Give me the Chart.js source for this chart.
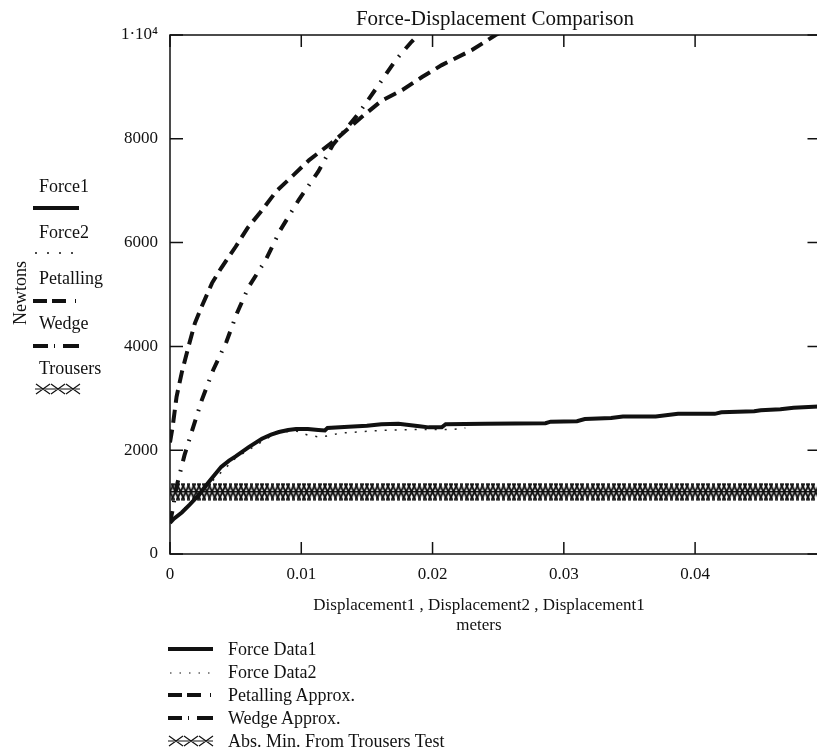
<!DOCTYPE html>
<html>
<head>
<meta charset="utf-8">
<title>Force-Displacement Comparison</title>
<script src="https://cdn.jsdelivr.net/npm/chart.js@4.4.1/dist/chart.umd.min.js"></script>
<style>
    body { margin: 0; background: #fff; }
    #wrap {
        position: relative;
        width: 817px;
        height: 754px;
        overflow: hidden;
        font-family: "Liberation Serif", "Times New Roman", serif;
        color: #111;
    }
    #wrap canvas { position: absolute; left: 0; top: 0; }
    .lbl { position: absolute; white-space: nowrap; line-height: 1; }
    .sample { position: absolute; overflow: visible; }
</style>
</head>
<body>
<div id="wrap">
    <!-- canvas is a little wider than the page so the right frame edge falls just outside, as in the scan -->
    <canvas id="forceChart" width="824" height="754"></canvas>

    <div class="lbl" style="left:295px; top:8px; width:400px; text-align:center; font-size:21px;">Force-Displacement Comparison</div>

    <!-- y-axis trace labels (left side) -->
    <div class="lbl" style="left:-30px; top:284px; width:100px; text-align:center; font-size:18px; transform:rotate(-90deg);">Newtons</div>

    <div class="lbl" style="left:39px; top:177px; font-size:18px;">Force1</div>
    <svg class="sample" style="left:33px; top:203px;" width="47" height="10"><line x1="0" y1="5" x2="46" y2="5" stroke="#111" stroke-width="4"/></svg>

    <div class="lbl" style="left:39px; top:223px; font-size:18px;">Force2</div>
    <svg class="sample" style="left:33px; top:248px;" width="47" height="10"><line x1="2" y1="5" x2="46" y2="5" stroke="#111" stroke-width="1.5" stroke-dasharray="2 10"/></svg>

    <div class="lbl" style="left:39px; top:269px; font-size:18px;">Petalling</div>
    <svg class="sample" style="left:33px; top:296px;" width="47" height="10"><line x1="0" y1="5" x2="46" y2="5" stroke="#111" stroke-width="4" stroke-dasharray="14 5 14 9 1 100"/></svg>

    <div class="lbl" style="left:39px; top:314px; font-size:18px;">Wedge</div>
    <svg class="sample" style="left:33px; top:341px;" width="47" height="10"><line x1="0" y1="5" x2="46" y2="5" stroke="#111" stroke-width="4" stroke-dasharray="15 6 1 8 16 100"/></svg>

    <div class="lbl" style="left:39px; top:359px; font-size:18px;">Trousers</div>
    <svg class="sample" style="left:35px; top:383px;" width="46" height="12">
        <line x1="0" y1="6" x2="45" y2="6" stroke="#111" stroke-width="1"/>
        <path d="M1 1 L15 11 M15 1 L1 11 M16 1 L30 11 M30 1 L16 11 M31 1 L45 11 M45 1 L31 11" stroke="#111" stroke-width="1.2" fill="none"/>
    </svg>

    <!-- x-axis title -->
    <div class="lbl" style="left:279px; top:596px; width:400px; text-align:center; font-size:17px;">Displacement1 , Displacement2 , Displacement1</div>
    <div class="lbl" style="left:279px; top:616px; width:400px; text-align:center; font-size:17px;">meters</div>

    <!-- bottom legend -->
    <svg class="sample" style="left:168px; top:644px;" width="46" height="10"><line x1="0" y1="5" x2="45" y2="5" stroke="#111" stroke-width="4"/></svg>
    <div class="lbl" style="left:228px; top:640px; font-size:18px;">Force Data1</div>

    <svg class="sample" style="left:168px; top:668px;" width="46" height="10"><line x1="2" y1="5" x2="45" y2="5" stroke="#111" stroke-width="1.2" stroke-dasharray="1.5 8"/></svg>
    <div class="lbl" style="left:228px; top:663px; font-size:18px;">Force Data2</div>

    <svg class="sample" style="left:168px; top:690px;" width="46" height="10"><line x1="0" y1="5" x2="45" y2="5" stroke="#111" stroke-width="4" stroke-dasharray="14 5 14 9 1 100"/></svg>
    <div class="lbl" style="left:228px; top:686px; font-size:18px;">Petalling Approx.</div>

    <svg class="sample" style="left:168px; top:713px;" width="46" height="10"><line x1="0" y1="5" x2="45" y2="5" stroke="#111" stroke-width="4" stroke-dasharray="14 6 1 8 16 100"/></svg>
    <div class="lbl" style="left:228px; top:709px; font-size:18px;">Wedge Approx.</div>

    <svg class="sample" style="left:168px; top:735px;" width="46" height="12">
        <line x1="0" y1="6" x2="45" y2="6" stroke="#111" stroke-width="1"/>
        <path d="M1 1 L15 11 M15 1 L1 11 M16 1 L30 11 M30 1 L16 11 M31 1 L45 11 M45 1 L31 11" stroke="#111" stroke-width="1.2" fill="none"/>
    </svg>
    <div class="lbl" style="left:228px; top:732px; font-size:18px;">Abs. Min. From Trousers Test</div>
</div>

<script>
// ---- data ----
const xTicks = [0, 0.01, 0.02, 0.03, 0.04];
const yTicks = [0, 2000, 4000, 6000, 8000, 10000];

// Force Data1 (solid)
const displacement1 = [0, 0.0003, 0.0009, 0.0015, 0.0022, 0.003, 0.0039, 0.0045, 0.005, 0.006,
    0.007, 0.0077, 0.0083, 0.009, 0.0096, 0.0105, 0.0113, 0.0118, 0.012, 0.0136,
    0.015, 0.0161, 0.0174, 0.019, 0.0197, 0.0207, 0.021, 0.024, 0.0286, 0.029,
    0.031, 0.0316, 0.0336, 0.0345, 0.037, 0.0387, 0.0415, 0.042, 0.0445, 0.045,
    0.0465, 0.0475, 0.0494];
const force1 = [600, 680, 800, 950, 1140, 1400, 1680, 1800, 1880, 2060,
    2220, 2300, 2350, 2390, 2410, 2410, 2390, 2380, 2430, 2450,
    2470, 2500, 2510, 2460, 2440, 2440, 2500, 2510, 2520, 2550,
    2560, 2600, 2620, 2650, 2650, 2700, 2700, 2730, 2750, 2770,
    2790, 2820, 2840];

// Force Data2 (dotted)
const displacement2 = [0, 0.002, 0.005, 0.008, 0.0095, 0.0105, 0.0115, 0.013, 0.016, 0.019, 0.0215, 0.0225];
const force2 = [600, 1100, 1850, 2320, 2380, 2290, 2250, 2330, 2380, 2400, 2400, 2430];

// Petalling Approx. (dashed)
const petallingX = [0, 0.0002, 0.0005, 0.0009, 0.0014, 0.0019, 0.0024, 0.0032, 0.0039, 0.005,
    0.0059, 0.0069, 0.0081, 0.0094, 0.0106, 0.0126, 0.0146, 0.0161, 0.0177, 0.0192,
    0.0207, 0.023, 0.0248, 0.026];
const petalling = [2150, 2450, 3030, 3500, 3990, 4450, 4760, 5220, 5510, 5920,
    6280, 6590, 6990, 7300, 7590, 7980, 8420, 8730, 8940, 9190,
    9420, 9710, 10000, 10150];

// Wedge Approx. (dash-dot)
const wedgeX = [0, 0.0002, 0.0005, 0.0008, 0.0011, 0.0017, 0.0024, 0.0033, 0.0043, 0.0051,
    0.006, 0.0073, 0.0084, 0.0098, 0.0113, 0.0124, 0.0144, 0.0159, 0.0172, 0.0184,
    0.0189, 0.0195];
const wedge = [600, 850, 1300, 1600, 1900, 2390, 2950, 3550, 4090, 4640,
    5150, 5670, 6240, 6820, 7370, 7880, 8500, 9040, 9520, 9870,
    10000, 10200];

// Abs. Min. From Trousers Test (constant level, marker at every sample)
const trousersLevel = 1200;
const trousersX = [
    0, 0.0004, 0.0008, 0.0012, 0.0016, 0.002, 0.0024, 0.0028, 0.0032, 0.0036,
    0.004, 0.0044, 0.0048, 0.0052, 0.0056, 0.006, 0.0064, 0.0068, 0.0072, 0.0076,
    0.008, 0.0084, 0.0088, 0.0092, 0.0096, 0.01, 0.0104, 0.0108, 0.0112, 0.0116,
    0.012, 0.0124, 0.0128, 0.0132, 0.0136, 0.014, 0.0144, 0.0148, 0.0152, 0.0156,
    0.016, 0.0164, 0.0168, 0.0172, 0.0176, 0.018, 0.0184, 0.0188, 0.0192, 0.0196,
    0.02, 0.0204, 0.0208, 0.0212, 0.0216, 0.022, 0.0224, 0.0228, 0.0232, 0.0236,
    0.024, 0.0244, 0.0248, 0.0252, 0.0256, 0.026, 0.0264, 0.0268, 0.0272, 0.0276,
    0.028, 0.0284, 0.0288, 0.0292, 0.0296, 0.03, 0.0304, 0.0308, 0.0312, 0.0316,
    0.032, 0.0324, 0.0328, 0.0332, 0.0336, 0.034, 0.0344, 0.0348, 0.0352, 0.0356,
    0.036, 0.0364, 0.0368, 0.0372, 0.0376, 0.038, 0.0384, 0.0388, 0.0392, 0.0396,
    0.04, 0.0404, 0.0408, 0.0412, 0.0416, 0.042, 0.0424, 0.0428, 0.0432, 0.0436,
    0.044, 0.0444, 0.0448, 0.0452, 0.0456, 0.046, 0.0464, 0.0468, 0.0472, 0.0476,
    0.048, 0.0484, 0.0488, 0.0492
];

const toPoints = (xs, ys) => xs.map((x, i) => ({ x, y: ys[i] }));

// tall narrow X used by Mathcad for the trousers trace
function makeCrossMarker(w, h) {
    const c = document.createElement('canvas');
    c.width = w;
    c.height = h;
    const g = c.getContext('2d');
    g.strokeStyle = '#111';
    g.lineWidth = 1.9;
    g.beginPath();
    g.moveTo(0.5, 0.5); g.lineTo(w - 0.5, h - 0.5);
    g.moveTo(w - 0.5, 0.5); g.lineTo(0.5, h - 0.5);
    g.stroke();
    return c;
}

// box frame with inward ticks on all four sides
const frameTicks = {
    id: 'frameTicks',
    afterDatasetsDraw(chart) {
        const { ctx, chartArea: a, scales: { x, y } } = chart;
        ctx.save();
        ctx.strokeStyle = '#111';
        ctx.lineWidth = 1.5;
        ctx.strokeRect(a.left, a.top, a.right - a.left, a.bottom - a.top);
        ctx.beginPath();
        xTicks.forEach(v => {
            const px = x.getPixelForValue(v);
            ctx.moveTo(px, a.bottom); ctx.lineTo(px, a.bottom - 12);
            ctx.moveTo(px, a.top); ctx.lineTo(px, a.top + 12);
        });
        yTicks.forEach(v => {
            const py = y.getPixelForValue(v);
            ctx.moveTo(a.left, py); ctx.lineTo(a.left + 13, py);
            ctx.moveTo(a.right, py); ctx.lineTo(a.right - 11, py);
        });
        ctx.stroke();
        ctx.restore();
    }
};

Chart.defaults.font.family = '"Liberation Serif", "Times New Roman", serif';
Chart.defaults.color = '#111';

const ctx = document.getElementById('forceChart');
new Chart(ctx, {
    type: 'line',
    data: {
        datasets: [
            {
                label: 'Force Data1',
                data: toPoints(displacement1, force1),
                borderColor: '#111',
                borderWidth: 4,
                pointRadius: 0,
                tension: 0
            },
            {
                label: 'Force Data2',
                data: toPoints(displacement2, force2),
                borderColor: '#222',
                borderWidth: 1.5,
                borderDash: [2, 8],
                pointRadius: 0,
                tension: 0
            },
            {
                label: 'Petalling Approx.',
                data: toPoints(petallingX, petalling),
                borderColor: '#111',
                borderWidth: 4,
                borderDash: [13, 7],
                borderCapStyle: 'butt',
                pointRadius: 0,
                tension: 0
            },
            {
                label: 'Wedge Approx.',
                data: toPoints(wedgeX, wedge),
                borderColor: '#111',
                borderWidth: 4,
                borderDash: [12, 9, 1.5, 9],
                borderCapStyle: 'butt',
                pointRadius: 0,
                tension: 0
            },
            {
                label: 'Abs. Min. From Trousers Test',
                data: trousersX.map(x => ({ x, y: trousersLevel })),
                borderColor: '#111',
                borderWidth: 1.5,
                pointStyle: makeCrossMarker(9, 18),
                pointRadius: 4,
                tension: 0
            }
        ]
    },
    options: {
        responsive: false,
        animation: false,
        events: [],
        layout: { padding: { top: 35, right: 0, bottom: 0, left: 0 } },
        plugins: {
            legend: { display: false },
            tooltip: { enabled: false },
            title: { display: false }
        },
        scales: {
            x: {
                type: 'linear',
                min: 0,
                max: 0.0494,
                grid: { display: false, drawTicks: false },
                border: { display: false },
                afterBuildTicks: scale => { scale.ticks = xTicks.map(v => ({ value: v })); },
                afterFit: scale => { scale.height = 200; },
                ticks: {
                    padding: 10,
                    maxRotation: 0,
                    font: { size: 17 },
                    callback: v => (v === 0 ? '0' : v.toFixed(2))
                }
            },
            y: {
                min: 0,
                max: 10000,
                grid: { display: false, drawTicks: false },
                border: { display: false },
                afterBuildTicks: scale => { scale.ticks = yTicks.map(v => ({ value: v })); },
                afterFit: scale => { scale.width = 170; },
                ticks: {
                    padding: 12,
                    font: { size: 17 },
                    callback: v => (v === 10000 ? '1\u00B710\u2074' : String(v))
                }
            }
        }
    },
    plugins: [frameTicks]
});
</script>
</body>
</html>
